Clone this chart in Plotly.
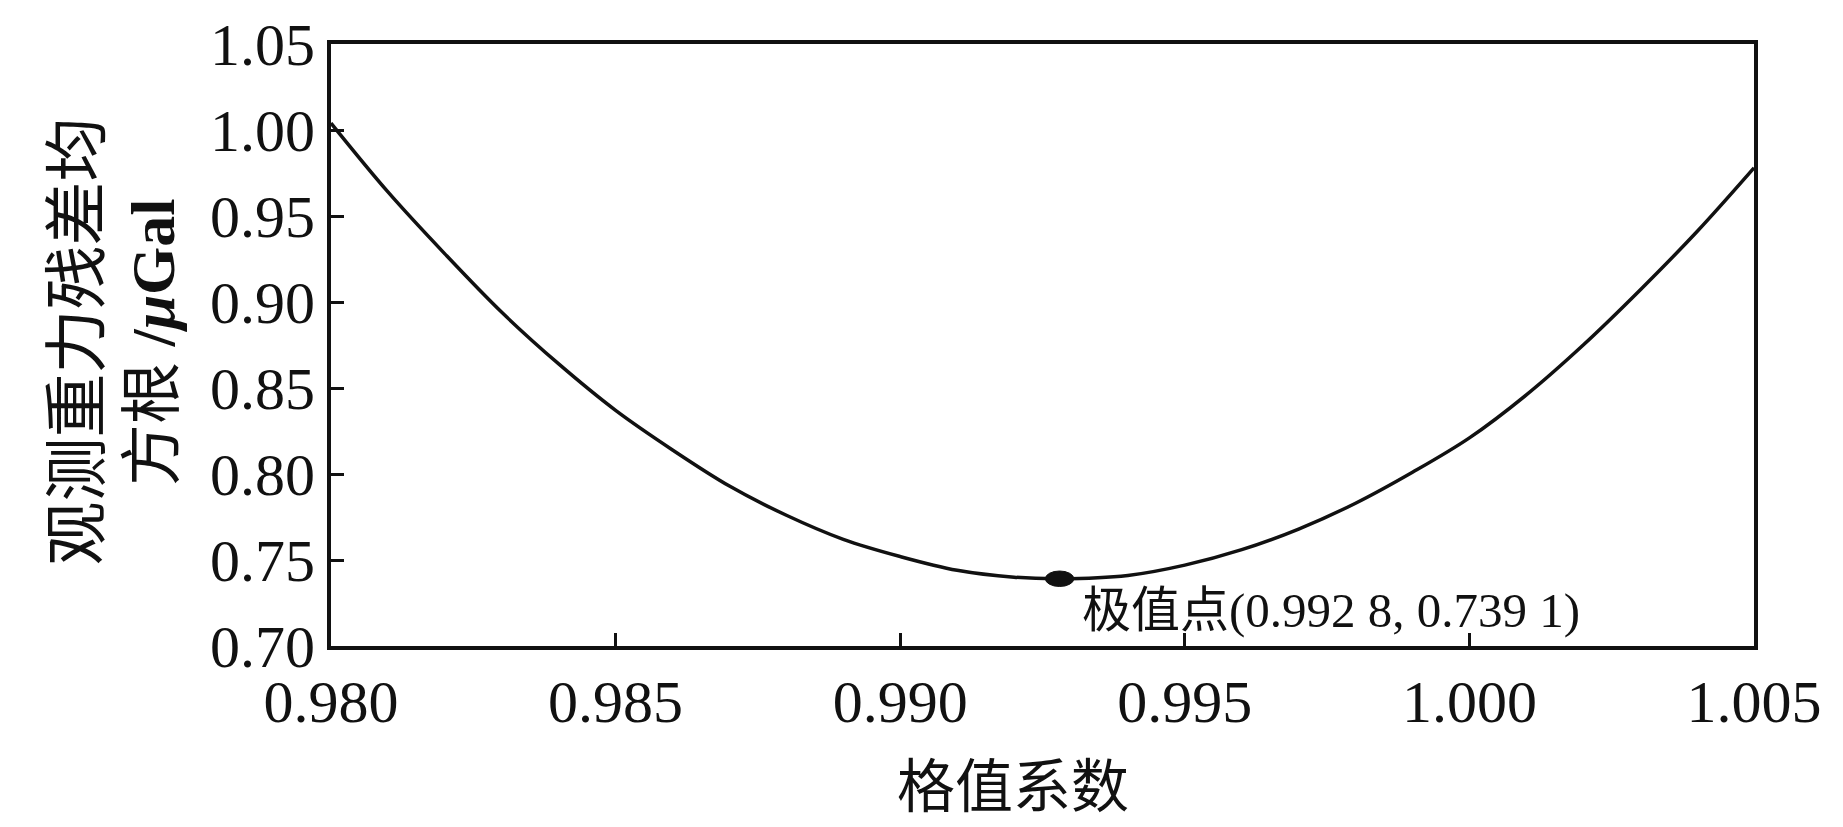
import plotly.graph_objects as go

# lattice coefficient vs. RMS of gravity residuals
coef = [0.980, 0.981, 0.982, 0.983, 0.984, 0.985, 0.986, 0.987, 0.988, 0.989,
        0.990, 0.991, 0.992, 0.9928, 0.994, 0.995, 0.996, 0.997, 0.998, 0.999,
        1.000, 1.001, 1.002, 1.003, 1.004, 1.005]
rms = [1.004, 0.964, 0.928, 0.894, 0.864, 0.837, 0.814, 0.793, 0.776, 0.762,
       0.752, 0.744, 0.740, 0.7391, 0.741, 0.747, 0.756, 0.768, 0.783, 0.801,
       0.821, 0.846, 0.875, 0.907, 0.941, 0.978]

ext_x = 0.9928
ext_y = 0.7391
ext_label = "极值点(0.992 8, 0.739 1)"

x_ticks = [0.980, 0.985, 0.990, 0.995, 1.000, 1.005]
y_ticks = [0.70, 0.75, 0.80, 0.85, 0.90, 0.95, 1.00, 1.05]

x_title = "格值系数"
y_title_1 = "观测重力残差均"
y_title_2 = "方根 <b>/<i>μ</i>Gal</b>"

FONT = "Liberation Serif, Noto Sans CJK SC, serif"
INK = "#111111"

fig = go.Figure()
fig.add_trace(go.Scatter(x=coef, y=rms, mode="lines",
                         line=dict(color=INK, width=3.5, shape="spline"),
                         showlegend=False, hoverinfo="skip"))

# extreme point drawn as a small filled ellipse
fig.add_shape(type="circle", xref="x", yref="y",
              x0=ext_x - 0.00025, x1=ext_x + 0.00025,
              y0=ext_y - 0.0045, y1=ext_y + 0.0045,
              fillcolor=INK, line=dict(color=INK, width=1))

fig.add_annotation(x=ext_x, y=ext_y, xref="x", yref="y", text=ext_label,
                   showarrow=False, xanchor="left", yanchor="middle",
                   xshift=20, yshift=-32,
                   font=dict(family=FONT, size=49, color=INK))

fig.add_annotation(x=0.479, y=-0.226, xref="paper", yref="paper", text=x_title,
                   showarrow=False, xanchor="center", yanchor="middle",
                   borderpad=0,
                   font=dict(family="Noto Sans CJK SC", size=58, color=INK))
fig.add_annotation(x=-0.183, y=0.505, xref="paper", yref="paper", text=y_title_1,
                   showarrow=False, textangle=-90, xanchor="center", yanchor="middle",
                   font=dict(family="Noto Sans CJK SC", size=64, color=INK))
fig.add_annotation(x=-0.125, y=0.505, xref="paper", yref="paper", text=y_title_2,
                   showarrow=False, textangle=-90, xanchor="center", yanchor="middle",
                   font=dict(family=FONT, size=62, color=INK))

axis_style = dict(showline=True, linecolor=INK, linewidth=4, mirror=True,
                  ticks="inside", ticklen=13, tickwidth=3, tickcolor=INK,
                  showgrid=False, zeroline=False,
                  tickfont=dict(family=FONT, size=60, color=INK))

fig.update_xaxes(range=[0.980, 1.005], tickvals=x_ticks, tickformat=".3f",
                 ticklabelstandoff=0, **axis_style)
fig.update_yaxes(range=[0.70, 1.05], tickvals=y_ticks, tickformat=".2f",
                 ticklabelstandoff=0, **axis_style)

fig.update_layout(width=1843, height=827,
                  margin=dict(l=331, r=89, t=42, b=181),
                  plot_bgcolor="white", paper_bgcolor="white")

fig.write_html("out.html", config={"displayModeBar": False},
               post_script="document.body.style.margin='0';"
                           "document.body.style.overflow='hidden';")
